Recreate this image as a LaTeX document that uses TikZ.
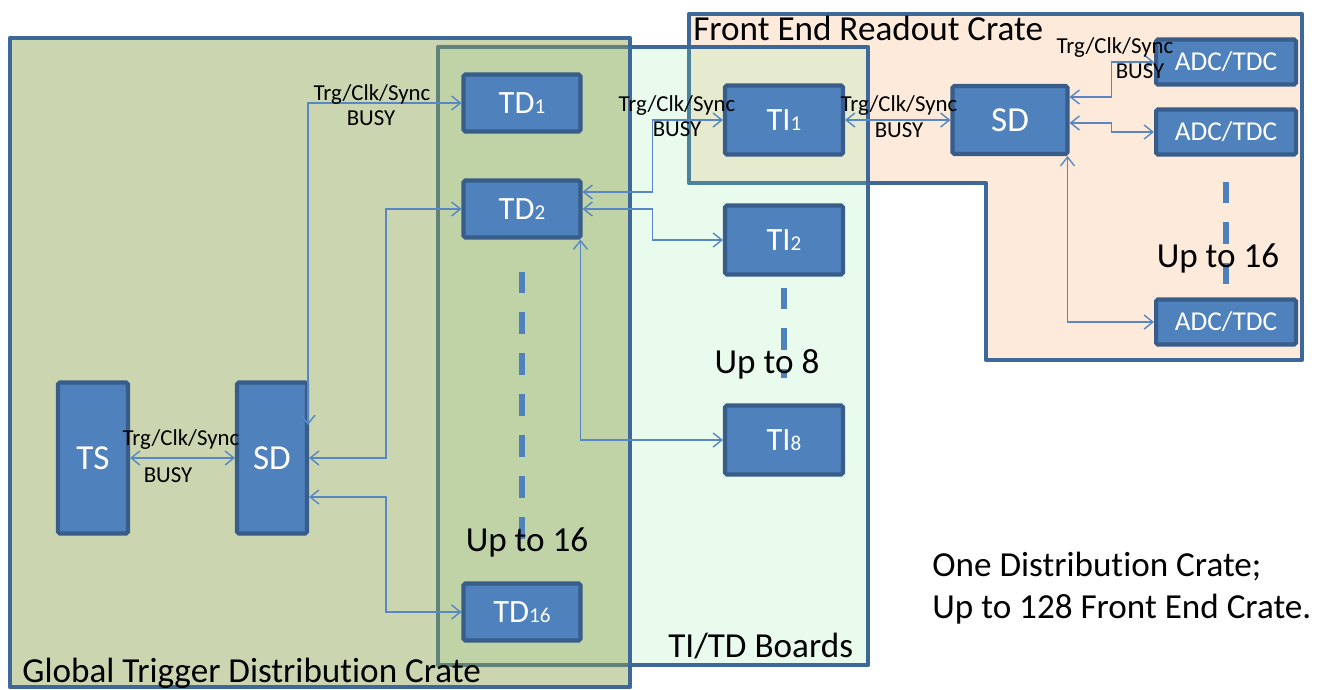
\documentclass[tikz,border=0pt]{standalone}
\usepackage{fontspec}
\setmainfont{Carlito}[Ligatures=NoCommon]
\usetikzlibrary{arrows.meta, calc}

\definecolor{boxblue}{HTML}{4F81BD}
\definecolor{boxedge}{HTML}{385D8A}
\definecolor{crateedge}{HTML}{3D6899}
\definecolor{linkblue}{HTML}{5887C3}
\definecolor{frontfill}{HTML}{F79646}
\definecolor{boardfill}{RGB}{140,235,165}
\definecolor{globalfill}{RGB}{140,162,80}

\newcommand{\brd}[2]{#1{\fontsize{12}{14}\selectfont #2}}

\begin{document}
\begin{tikzpicture}[x=0.02cm, y=-0.02cm,
    crate/.style={draw=crateedge, line width=2.6pt, line join=round},
    board/.style={draw=boxedge, fill=boxblue, line width=2.3pt, rounded corners=1pt, text=white, inner sep=0pt},
    tall/.style={board, minimum width=1.40cm, minimum height=3.02cm, font=\fontsize{20}{24}\selectfont},
    tdbox/.style={board, minimum width=2.34cm, minimum height=1.14cm, font=\fontsize{18.5}{22}\selectfont},
    tibox/.style={board, minimum width=2.36cm, minimum height=1.38cm, font=\fontsize{18.5}{22}\selectfont},
    adcbox/.style={board, minimum width=2.80cm, minimum height=0.90cm, font=\fontsize{15.5}{18}\selectfont},
    link/.style={draw=linkblue, line width=0.8pt, <->, >={Straight Barb[length=5pt,width=8pt]}},
    sig/.style={font=\fontsize{13}{15}\selectfont, inner sep=0pt},
    bigtext/.style={font=\fontsize{20}{24}\selectfont, inner sep=0pt},
    updash/.style={draw=boxblue, line width=3.4pt, dash pattern=on 12.5pt off 10.8pt}]
  \useasboundingbox (0,0) rectangle (1330,690);

  % crates
  \path[crate, fill=frontfill, fill opacity=0.2] (689,14) -- (1302,14) -- (1302,360) -- (986,360) -- (986,183) -- (689,183) -- cycle;
  \path[crate, fill=boardfill, fill opacity=0.2] (438,47) rectangle (868,665);
  \path[crate, fill=globalfill, fill opacity=0.45] (10,38) rectangle (630,687);

  \node[bigtext, anchor=base west] (frontname) at (693,40) {Front End Readout Crate};
  \node[bigtext, anchor=base west] (boardname) at (668,657) {TI/TD Boards};
  \node[bigtext, anchor=base west] (globalname) at (22,682) {Global Trigger Distribution Crate};

  % boards
  \node[tall] (TS) at (93,458) {TS};
  \node[tall] (SDg) at (272,458) {SD};
  \node[tdbox] (TD1) at (522,103) {\brd{TD}{1}};
  \node[tdbox] (TD2) at (522,209) {\brd{TD}{2}};
  \node[tdbox] (TD16) at (522,612) {\brd{TD}{16}};
  \node[tibox] (TI1) at (784,120) {\brd{TI}{1}};
  \node[tibox] (TI2) at (784,240) {\brd{TI}{2}};
  \node[tibox] (TI8) at (784,440) {\brd{TI}{8}};
  \node[board, minimum width=2.30cm, minimum height=1.36cm, font=\fontsize{20}{24}\selectfont] (SDf) at (1010,120) {SD};
  \node[adcbox] (ADC1) at (1226,62) {ADC/TDC};
  \node[adcbox] (ADC2) at (1226,132) {ADC/TDC};
  \node[adcbox] (ADC3) at (1226,322) {ADC/TDC};

  % up to ...
  \draw[updash, shorten <=0.64cm, shorten >=0.54cm] (TD2) -- (TD16);
  \draw[updash, shorten <=0.22cm, shorten >=0.51cm] (TI2) -- (TI8);
  \draw[updash, shorten <=0.5cm, shorten >=0.26cm] (ADC2) -- (ADC3);

  % links
  \draw[link] (TS) -- (SDg);
  \draw[link] ($(SDg.east)+(-1,-33)$) |- (TD1.west);
  \draw[link] (SDg.east) -- ++(77,0) |- (TD2.west);
  \draw[link] ($(SDg.east)+(0,39)$) -- ++(77,0) |- (TD16.west);
  \draw[link] ($(TD2.east)+(0,-17)$) -- ++(70,0) |- (TI1.west);
  \draw[link] (TD2.east) -- ++(70,0) |- (TI2.west);
  \draw[link] ($(TD2.south east)+(-2,0)$) |- (TI8.west);
  \draw[link] (TI1) -- (SDf);
  \draw[link] ($(SDf.east)+(0,-23)$) -- ++(42,0) |- (ADC1.west);
  \draw[link] ($(SDf.east)+(0,3)$) -- ++(42,0) |- (ADC2.west);
  \draw[link] ($(SDf.south east)+(-2,0)$) |- (ADC3.west);

  \node[sig] (trgA) at (181,440) {Trg/Clk/Sync};
  \node[sig] (busyA) at (168,475) {BUSY};
  \node[sig] (trgB) at (372,95) {Trg/Clk/Sync};
  \node[sig] (busyB) at (371,118) {BUSY};
  \node[sig] (trgC) at (677,106) {Trg/Clk/Sync};
  \node[sig] (busyC) at (677,129) {BUSY};
  \node[sig] (trgD) at (899,106) {Trg/Clk/Sync};
  \node[sig] (busyD) at (899,130) {BUSY};
  \node[sig] (trgE) at (1115,48) {Trg/Clk/Sync};
  \node[sig] (busyE) at (1140,71) {BUSY};

  \node[bigtext, anchor=base] (upA) at (527,551) {Up to 16};
  \node[bigtext, anchor=base] (upB) at (767,373) {Up to 8};
  \node[bigtext, anchor=base] (upC) at (1218,267) {Up to 16};
  \node[bigtext, anchor=base west] (noteA) at (932,576) {One Distribution Crate;};
  \node[bigtext, anchor=base west] (noteB) at (932,618) {Up to 128 Front End Crate.};
\end{tikzpicture}
\end{document}
